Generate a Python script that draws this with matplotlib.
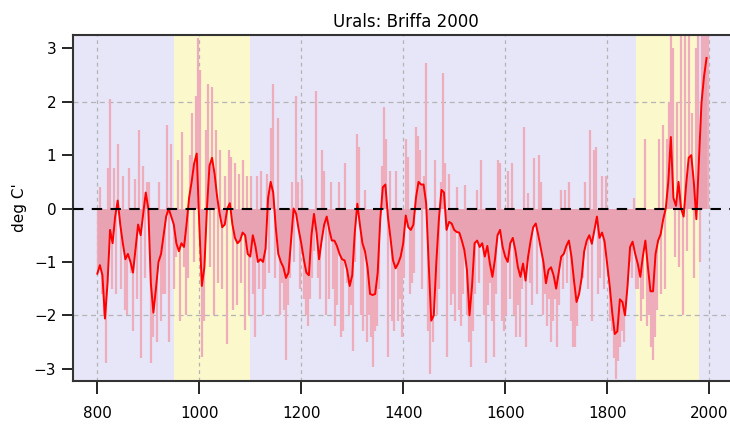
import matplotlib
matplotlib.use("Agg")
import matplotlib.pyplot as plt
import numpy as np

## smoothed series (5 yr steps, 800-1995)
smooth_start = 800
smooth_step = 5
smooth = [
    -1.22, -1.06, -1.25, -2.06, -1.4, -0.4, -0.65, -0.15, 0.15, -0.3,
    -0.65, -0.95, -0.85, -1.0, -1.2, -0.75, -0.3, -0.5, -0.1, 0.3,
    0.0, -1.4, -1.95, -1.5, -1.0, -0.85, -0.5, -0.15, 0.0, -0.15,
    -0.3, -0.65, -0.8, -0.65, -0.72, -0.3, 0.2, 0.5, 0.85, 1.03,
    -0.3, -1.45, -1.1, 0.0, 0.8, 0.95, 0.65, 0.22, -0.1, -0.35,
    -0.3, 0.0, 0.1, -0.3, -0.55, -0.65, -0.6, -0.45, -0.5, -0.85,
    -0.9, -0.5, -0.7, -1.0, -0.95, -1.0, -0.75, 0.2, 0.5, 0.3,
    -0.35, -0.85, -1.0, -1.1, -1.3, -1.2, -0.6, 0.0, -0.1, -0.4,
    -0.65, -0.95, -1.2, -1.25, -0.5, -0.1, -0.45, -0.95, -0.6, -0.3,
    -0.15, -0.4, -0.6, -0.6, -0.7, -0.85, -0.95, -0.97, -1.15, -1.45,
    -1.25, -0.45, 0.09, -0.3, -0.65, -0.8, -1.1, -1.6, -1.62, -1.6,
    -1.2, -0.2, 0.4, 0.45, -0.15, -0.55, -0.97, -1.12, -1.03, -0.9,
    -0.65, -0.13, -0.35, -0.4, -0.3, 0.2, 0.5, 0.45, 0.45, 0.1,
    -1.03, -2.1, -2.0, -1.0, -0.2, 0.35, 0.3, -0.4, -0.25, -0.28,
    -0.4, -0.44, -0.45, -0.6, -0.78, -1.15, -2.0, -1.45, -0.65, -0.6,
    -0.72, -0.65, -0.9, -0.7, -1.03, -1.28, -0.95, -0.5, -0.4, -0.72,
    -0.9, -1.0, -0.65, -0.55, -0.78, -1.1, -1.28, -1.03, -1.35, -0.9,
    -0.6, -0.35, -0.28, -0.5, -0.75, -1.0, -1.4, -1.15, -1.1, -1.25,
    -1.5, -1.2, -0.9, -0.85, -0.7, -0.6, -0.9, -1.35, -1.75, -1.6,
    -1.3, -0.8, -0.6, -0.5, -0.66, -0.4, -0.15, -0.55, -0.45, -0.62,
    -1.03, -1.45, -1.95, -2.35, -2.3, -1.7, -1.75, -2.0, -1.45, -0.72,
    -0.62, -0.85, -1.03, -1.28, -0.9, -0.6, -1.1, -1.55, -1.55, -0.85,
    -0.6, -0.48, -0.2, 0.0, 0.5, 1.34, 0.2, 0.05, 0.5, 0.0,
    -0.15, 0.45, 0.95, 1.0, 0.5, -0.2, 0.9, 1.97, 2.47, 2.82,
]

## yearly values (4 yr steps, 800-1996)
annual_start = 800
annual_step = 4
annual = [
    -1.2, 0.4, -1.6, -2.0, -2.9, 0.75, 2.06, -1.5, 0.75, -1.6,
    1.2, -1.5, 0.6, -1.9, -2.0, 0.75, -1.2, -2.3, 0.55, -1.7,
    1.47, -2.8, 0.8, -1.3, 0.5, 0.5, -2.9, -2.4, -1.6, -2.5,
    0.5, -2.1, -1.6, -1.6, 1.56, -2.5, 1.2, -1.5, -0.9, 0.9,
    -2.1, 1.44, -1.1, -2.0, -1.3, 1.0, 1.78, -1.0, 2.1, 3.2,
    2.6, -2.78, -2.1, 1.47, 2.34, -1.1, 2.28, -2.0, 1.47, -1.4,
    1.1, -1.5, 0.6, -2.53, 1.1, 0.97, -1.9, 0.85, -1.8, 0.65,
    -1.4, 0.9, -2.28, 0.6, -2.0, 0.6, -1.6, -2.4, 0.6, -1.5,
    0.7, -2.0, -1.5, 0.65, -1.2, 1.5, 2.34, -1.3, 1.7, -2.0,
    -1.4, -1.9, -2.84, -1.8, -1.3, 0.5, -1.0, 2.1, 0.5, -1.5,
    0.55, -1.7, -2.0, -2.2, -1.7, -1.3, -0.8, 2.2, -1.3, -1.7,
    1.1, 0.7, -2.0, -1.7, 0.5, -1.5, -2.2, -1.8, 0.5, -2.4,
    -2.3, 0.85, -1.4, -2.0, -1.8, -2.66, -1.0, 1.4, 1.15, -2.0,
    -2.3, 0.35, -2.5, -2.0, -2.4, -2.97, -2.3, -2.2, -1.5, 0.8,
    1.9, 1.3, -2.78, 0.7, -2.1, -2.3, 0.7, -2.1, -1.7, -2.4,
    -1.3, 1.3, 0.97, -1.6, -1.4, -1.2, 1.53, 1.35, 1.1, -1.5,
    0.6, 2.72, -2.3, -3.1, -2.5, 0.9, -2.0, -1.5, 0.5, 2.53,
    0.85, -2.78, 0.65, -1.8, -1.6, -2.1, 0.4, -1.9, -2.2, -1.6,
    0.45, -2.0, -2.5, -2.97, -2.3, -1.6, 0.35, -1.4, 0.9, -2.0,
    -2.9, -1.8, -1.4, -2.1, -2.78, -1.6, 0.9, 0.85, -2.1, -2.3,
    -2.0, 0.7, -1.7, 0.85, -2.0, -2.4, -1.8, -2.4, -1.5, 1.53,
    -2.6, 0.3, -1.4, -1.8, 0.95, -1.6, 1.0, 0.5, -2.0, -1.6,
    -2.2, -1.7, -2.5, -2.1, -1.7, -2.6, -1.8, 0.35, -1.5, 0.35,
    -1.4, 0.5, -2.1, -2.6, -2.6, -2.2, -1.5, -1.0, -1.3, 0.5,
    -1.5, 1.47, -2.1, 1.1, 1.15, -1.6, -1.3, 0.6, -1.5, 0.6,
    -1.2, -2.1, -2.3, -2.8, -3.2, -2.85, -2.6, -2.3, -2.5, -1.45,
    -1.2, -1.0, -1.3, 0.2, -1.5, -1.5, -2.1, -1.7, 1.3, -2.2,
    -2.0, -2.6, -2.84, -2.4, -1.9, 1.3, -1.6, 1.56, -1.5, 1.3,
    2.0, 3.4, 3.0, -0.9, 2.0, -1.1, 3.4, -2.0, 3.4, -0.8,
    3.4, 1.78, -1.3, 3.0, 3.4, -1.0, 3.4, 3.4, 3.4, 3.4,
]

## warm periods shaded
bands = [(950, 1100), (1856, 1980)]

smooth_years = smooth_start + smooth_step * np.arange(len(smooth))
annual_years = annual_start + annual_step * np.arange(len(annual))
smooth = np.array(smooth)
annual = np.array(annual)

fig = plt.figure(figsize=(7.3, 4.29), dpi=100)
fig.patch.set_facecolor("white")
ax = fig.add_axes([73/730, 48/429, 665/730, 346/429])
ax.set_facecolor("#e6e6f8")

for b0, b1 in bands:
    ax.axvspan(b0, b1, color="#fbf8cc", zorder=0, lw=0)

# grid
for gx in range(800, 2001, 200):
    ax.axvline(gx, color="#b4b4b4", ls=(0, (3, 3)), lw=0.9, zorder=1)
for gy in [-2, 2]:
    ax.axhline(gy, color="#b4b4b4", ls=(0, (4, 3)), lw=0.9, zorder=1)

# yearly bars, drawn as thin pink lines from zero
ax.vlines(annual_years + 1.5, 0, annual, color="#efacba", lw=1.6, zorder=2)
ax.fill_between(smooth_years, smooth, 0, color="#e9a2b2", lw=0, zorder=3)
ax.plot(smooth_years, smooth, color="#ff0000", lw=1.4, zorder=4)
ax.axhline(0, color="black", ls=(0, (5, 4)), lw=1.5, zorder=5)

ax.set_xlim(752.3, 2056.7)
ax.set_ylim(-3.23, 3.25)
ax.set_xticks(range(800, 2001, 200))
ax.set_yticks([-3, -2, -1, 0, 1, 2, 3])
ax.tick_params(axis="x", length=9, width=1.2, pad=9, labelsize=11)
ax.tick_params(axis="y", length=8, width=1.2, pad=4, labelsize=11)
for s in ax.spines.values():
    s.set_linewidth(1.5)
    s.set_color("#333333")
ax.spines["right"].set_visible(False)

ax.set_ylabel("deg C'", fontsize=11, labelpad=5)
ax.set_title("Urals: Briffa 2000", fontsize=12, pad=6)

plt.savefig("out.png", dpi=100)
